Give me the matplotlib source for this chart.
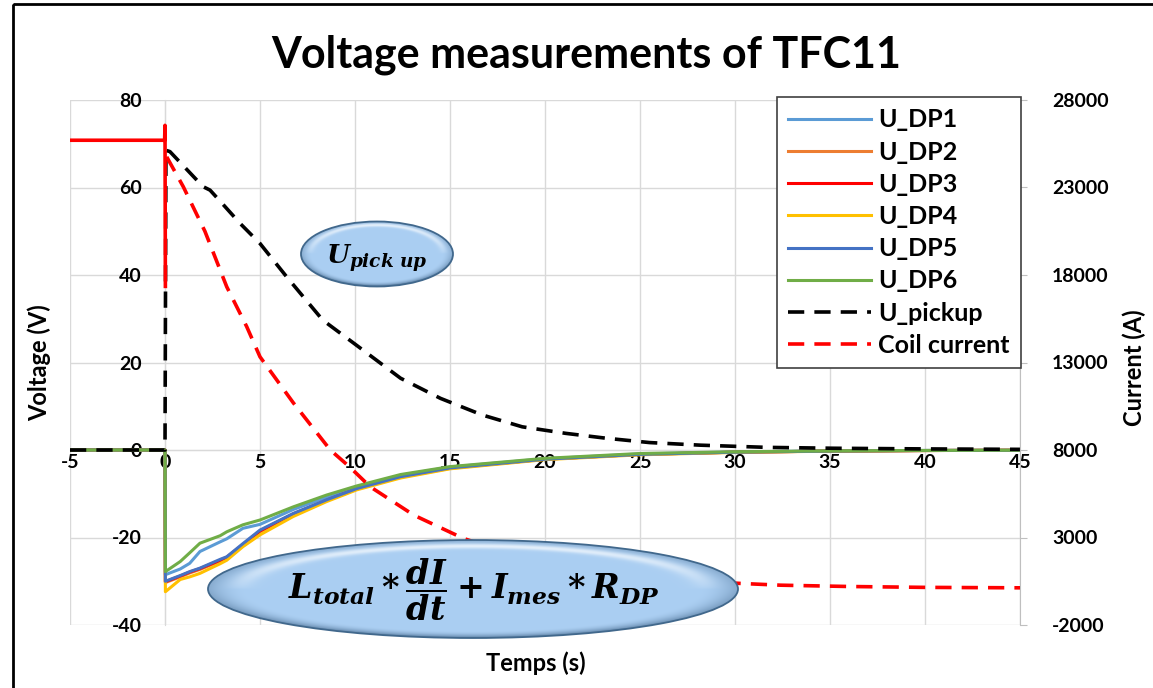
import numpy as np
import matplotlib
matplotlib.use('Agg')
import matplotlib.pyplot as plt
from matplotlib.patches import Ellipse, Rectangle

plt.rcParams['font.family'] = ['Lato', 'DejaVu Sans']
plt.rcParams['font.weight'] = 'bold'
plt.rcParams['axes.unicode_minus'] = False
plt.rcParams['mathtext.fontset'] = 'custom'
plt.rcParams['mathtext.it'] = 'DejaVu Serif:italic:bold'
plt.rcParams['mathtext.rm'] = 'DejaVu Serif:bold'
plt.rcParams['mathtext.bf'] = 'DejaVu Serif:bold'

# --- double pancake voltages (V) ---
t_dp = [-5, 0, 0.02, 0.8, 1.3, 1.84, 2.9, 3.25, 4.1, 5, 6.75, 8.5, 10.1,
        12.4, 15, 20, 25, 30, 35, 40, 45]
u_dp1 = [0, 0, -28.5, -27.2, -25.9, -23.2, -21.0, -20.3, -17.9, -17.0, -13.6,
         -10.8, -8.5, -5.8, -3.9, -2.0, -0.9, -0.45, -0.2, -0.1, -0.05]
u_dp2 = [0, 0, -30.3, -29.0, -28.1, -27.3, -25.4, -24.7, -21.9, -18.7, -14.8,
         -11.6, -8.9, -6.2, -4.2, -2.1, -1.0, -0.5, -0.25, -0.12, -0.06]
u_dp3 = [0, 0, -30.1, -28.8, -27.9, -27.1, -25.2, -24.5, -21.6, -18.5, -14.6,
         -11.5, -8.8, -6.1, -4.1, -2.1, -1.0, -0.5, -0.25, -0.12, -0.06]
u_dp4 = [0, 0, -32.4, -29.6, -29.0, -28.2, -26.0, -25.2, -22.1, -19.4, -15.2,
         -11.8, -9.1, -6.4, -4.3, -2.2, -1.1, -0.55, -0.27, -0.13, -0.06]
u_dp5 = [0, 0, -30.0, -28.7, -27.8, -27.0, -25.0, -24.4, -21.4, -18.3, -14.5,
         -11.4, -8.8, -6.1, -4.1, -2.1, -1.0, -0.5, -0.25, -0.12, -0.06]
u_dp6 = [0, 0, -27.8, -25.5, -23.5, -21.3, -19.6, -18.7, -17.1, -16.0, -13.0,
         -10.3, -8.2, -5.6, -3.8, -1.9, -0.8, -0.4, -0.2, -0.1, -0.05]

# --- pick-up coil voltage (V) ---
t_pickup = [-5, 0, 0.05, 0.26, 1.0, 2.0, 2.37, 3.0, 3.95, 5.0, 6.4, 8.3, 10,
            12.4, 14.5, 16.7, 18.8, 21.1, 23.2, 25.5, 28.2, 31.7, 35.2, 40, 45]
u_pickup = [0, 0, 68.5, 68.2, 64.8, 60.2, 59.4, 56.4, 51.8, 47.2, 39.6, 29.7,
            24.2, 16.4, 11.8, 8.0, 5.3, 3.8, 2.7, 1.7, 1.1, 0.6, 0.4, 0.25, 0.15]

# --- coil current (A), before and after the trigger ---
t_coil_pre = [-5, -0.02, 0, 0.02]
i_coil_pre = [25700, 25700, 26550, 17350]
t_coil = [0.09, 0.96, 2.1, 3.25, 4.3, 5.0, 6.75, 8.7, 9.7, 10.8, 13.1, 15.7,
          18, 20, 22, 25, 27, 30.3, 32.4, 36, 40, 45]
i_coil = [24750, 23050, 20500, 17325, 15050, 13325, 10700, 8000, 7050, 5900,
          4275, 2950, 2125, 1625, 1250, 800, 575, 375, 275, 200, 150, 125]

dp_series = [
    ('U_DP1', u_dp1, '#5b9bd5'),
    ('U_DP2', u_dp2, '#ed7d31'),
    ('U_DP3', u_dp3, '#ff0000'),
    ('U_DP4', u_dp4, '#ffc000'),
    ('U_DP5', u_dp5, '#4472c4'),
    ('U_DP6', u_dp6, '#70ad47'),
]

W, H = 1153, 688
fig = plt.figure(figsize=(W / 100, H / 100), dpi=100)
fig.patch.set_facecolor('white')

# plot area in pixels: x 70..1020, y 100..625
ax = fig.add_axes([70 / W, 1 - 625 / H, 950 / W, 525 / H])
ax2 = ax.twinx()

grid_c = '#d9d9d9'
ax.set_xlim(-5, 45)
ax.set_ylim(-40, 80)
ax.set_xticks(np.arange(-5, 46, 5))
ax.set_yticks(np.arange(-40, 81, 20))
ax.grid(True, color=grid_c, lw=1)
ax.set_axisbelow(True)
for s in ['top', 'right']:
    ax.spines[s].set_visible(False)
ax.spines['left'].set_position(('data', 0))
ax.spines['bottom'].set_position(('data', 0))
ax.spines['left'].set_color(grid_c)
ax.spines['bottom'].set_color(grid_c)
ax.tick_params(axis='both', length=0, labelsize=14, colors='black')
ax.tick_params(axis='y', pad=17)
ax.tick_params(axis='x', pad=3)

lines = []
for name, vals, col in dp_series:
    ln, = ax.plot(t_dp, vals, color=col, lw=2.2, label=name, zorder=3)
    lines.append(ln)
pk, = ax.plot(t_pickup, u_pickup, color='black', lw=2.6, dashes=(4.5, 2.8),
              label='U_pickup', zorder=4)
lines.append(pk)

ax.set_ylabel('Voltage (V)', fontsize=17, fontweight='bold')
ax.yaxis.set_label_coords(-0.02, 0.5)
ax.set_xlabel('Temps (s)', fontsize=17, fontweight='bold')
ax.xaxis.set_label_coords(0.49, -0.05)

# secondary axis: coil current
ax2.set_ylim(-2000, 28000)
ax2.set_yticks(np.arange(-2000, 28001, 5000))
for s in ['top', 'left', 'bottom']:
    ax2.spines[s].set_visible(False)
ax2.spines['right'].set_color('#bfbfbf')
ax2.tick_params(axis='y', length=5, color='#bfbfbf', labelsize=14, pad=18)
ax2.plot(t_coil_pre, i_coil_pre, color='#ff0000', lw=2.6, zorder=5)
cc, = ax2.plot(t_coil, i_coil, color='#ff0000', lw=2.6, dashes=(4.5, 2.8),
               label='Coil current', zorder=5)
lines.append(cc)
ax2.set_ylabel('Current (A)', fontsize=17, fontweight='bold')
ax2.yaxis.set_label_coords(1.108, 0.49)

leg = ax2.legend(handles=lines, labels=[l.get_label() for l in lines],
                 loc='upper left', bbox_to_anchor=(777 / W, 1 - 97 / H),
                 bbox_transform=fig.transFigure, fontsize=18, frameon=True,
                 fancybox=False, framealpha=1, edgecolor='#404040',
                 borderpad=0.45, handlelength=3.3, handletextpad=0.3,
                 labelspacing=0.37, borderaxespad=0)
leg.get_frame().set_linewidth(1.2)

fig.text(586 / W, 1 - 55 / H, 'Voltage measurements of TFC11',
         ha='center', va='center', fontsize=31, fontweight='bold')

# overlay in pixel coordinates for the annotation bubbles and outer frame
ov = fig.add_axes([0, 0, 1, 1])
ov.set_xlim(0, W)
ov.set_ylim(H, 0)
ov.axis('off')
ov.patch.set_visible(False)


def bubble(cx, cy, w, h):
    ny, nx = 160, 400
    v = np.linspace(1, -1, ny)[:, None]
    u = np.linspace(-1, 1, nx)[None, :]
    r = np.sqrt(u ** 2 + v ** 2)
    base = np.array([0.67, 0.81, 0.95])
    dark = np.array([0.36, 0.50, 0.64])
    img = np.ones((ny, nx, 3)) * base
    edge = np.clip((r - 0.86) / 0.14, 0, 1) ** 1.8 * (0.45 + 0.55 * np.clip(-v, 0, 1))
    img = img * (1 - edge[..., None]) + dark * edge[..., None]
    hi = np.exp(-((r - 0.88) / 0.05) ** 2) * np.clip(v, 0, 1) ** 0.6
    img = img * (1 - 0.75 * hi[..., None]) + 0.75 * hi[..., None]
    e = Ellipse((cx, cy), w, h, facecolor='none', edgecolor='#41688c',
                lw=1.3, zorder=3)
    ov.add_patch(e)
    im = ov.imshow(np.clip(img, 0, 1), extent=(cx - w / 2, cx + w / 2, cy + h / 2, cy - h / 2),
                   origin='upper', aspect='auto', zorder=2, interpolation='bilinear')
    im.set_clip_path(e)


bubble(377, 254, 152, 65)
ov.text(377, 258, r'$U_{pick\ up}$', ha='center', va='center', fontsize=19, zorder=4)

bubble(473, 589, 530, 98)
ov.text(474, 590, r'$L_{total}*\dfrac{dI}{dt}+I_{mes}*R_{DP}$', ha='center',
        va='center', fontsize=24, zorder=4)

ov.add_patch(Rectangle((13, 4), W + 20, H + 20, fill=False, edgecolor='black', lw=2))
ov.set_xlim(0, W)
ov.set_ylim(H, 0)

fig.savefig('out.png', dpi=100)
